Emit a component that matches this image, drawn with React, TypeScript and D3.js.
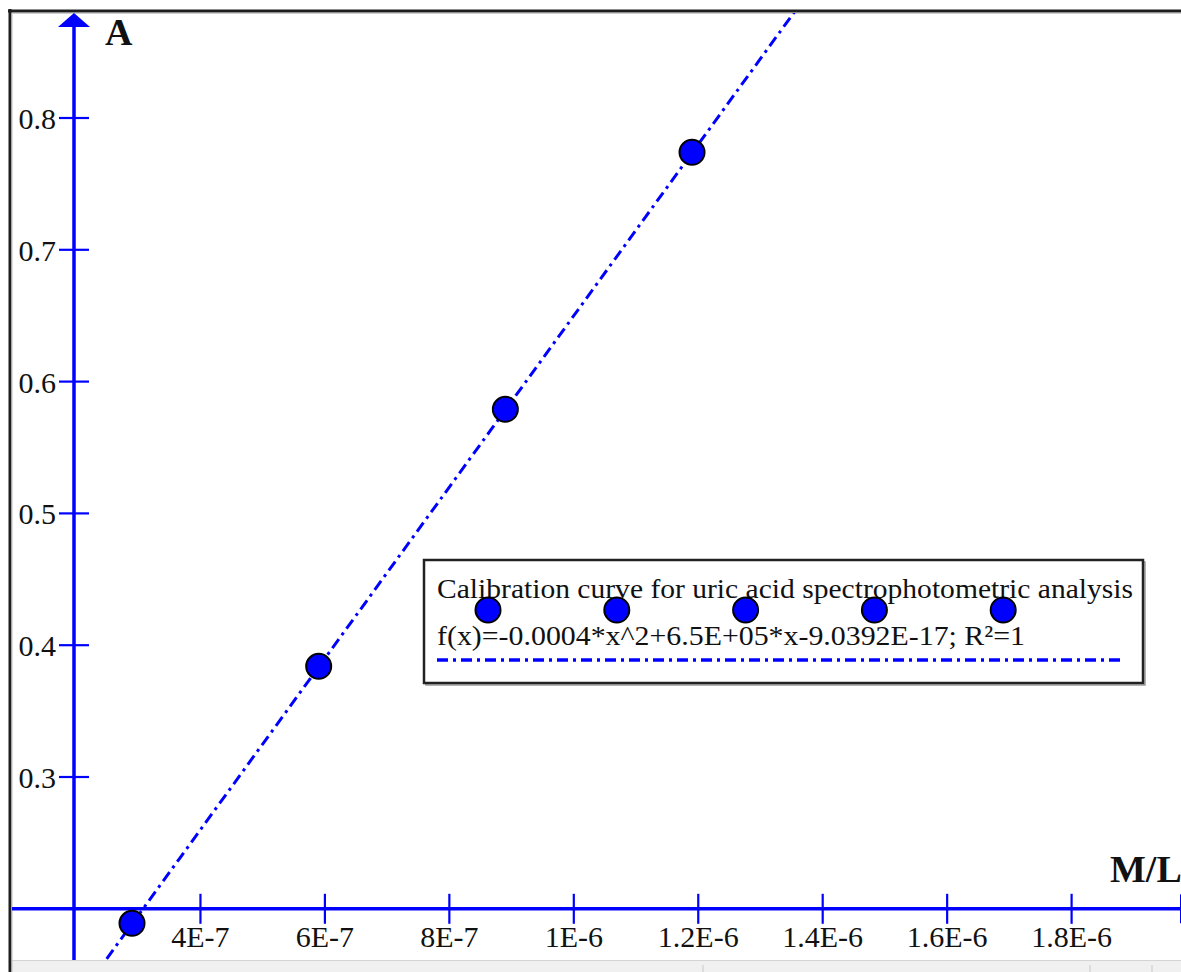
import React from "react";
import * as d3 from "d3";

// ---- data ----
const concentrations = [2.9e-7, 5.9e-7, 8.9e-7, 1.19e-6]; // M/L
const absorbances = [0.189, 0.384, 0.579, 0.774]; // A
const fitCoefficients = [-0.0004, 6.5e5, -9.0392e-17]; // a*x^2 + b*x + c
const xTickValues = [4e-7, 6e-7, 8e-7, 1e-6, 1.2e-6, 1.4e-6, 1.6e-6, 1.8e-6];
const xTickLabels = ["4E-7", "6E-7", "8E-7", "1E-6", "1.2E-6", "1.4E-6", "1.6E-6", "1.8E-6"];
const yTickValues = [0.3, 0.4, 0.5, 0.6, 0.7, 0.8];
const yTickLabels = ["0.3", "0.4", "0.5", "0.6", "0.7", "0.8"];
const legendTitle = "Calibration curve for uric acid spectrophotometric analysis";
const legendFormula = "f(x)=-0.0004*x^2+6.5E+05*x-9.0392E-17; R\u00b2=1";
const xAxisTitle = "M/L";
const yAxisTitle = "A";
const axisOrigin = [2e-7, 0.2];

const W = 1181;
const H = 972;
const BLUE = "#0000ff";
const FONT = "'Liberation Serif', 'Times New Roman', serif";

export default function App() {
  const x = d3.scaleLinear().domain([2e-7, 1.8e-6]).range([76, 1071.6]);
  const y = d3.scaleLinear().domain([0.3, 0.8]).range([777, 118]);
  const x0 = x(axisOrigin[0]);
  const y0 = y(axisOrigin[1]);

  const [a, b, c] = fitCoefficients;
  const fit = (v: number) => a * v * v + b * v + c;
  const samples = d3.range(0, 61).map((i) => 0 + (i / 60) * 2e-6);
  const linePath = d3
    .line<number>()
    .x((v) => x(v))
    .y((v) => y(fit(v)))(samples) as string;

  const clip = { x0: 12, y0: 13, x1: W, y1: 960 };
  const dash = "11,5,3,5";

  // legend layout
  const lg = { x: 424, y: 560, w: 719, h: 123 };
  const markerXs = d3.range(5).map((i) => 488 + i * 128.8);

  return (
    <svg
      width={W}
      height={H}
      style={{ position: "absolute", left: 0, top: 0, background: "#fff" }}
      fontFamily={FONT}
    >
      <defs>
        <clipPath id="plotClip">
          <rect x={clip.x0} y={clip.y0} width={clip.x1 - clip.x0} height={clip.y1 - clip.y0} />
        </clipPath>
      </defs>
      <rect x={0} y={0} width={W} height={H} fill="#fff" />

      {/* bottom grey strip */}
      <rect x={12} y={961} width={W - 12} height={11} fill="#f0f0f0" />
      <line x1={12} x2={W} y1={960.5} y2={960.5} stroke="#d4d4d4" strokeWidth={1} />
      {[703, 1090, 1152].map((px) => (
        <line key={px} x1={px} x2={px} y1={965} y2={972} stroke="#c8c8c8" strokeWidth={1} />
      ))}

      {/* frame */}
      <line x1={10} x2={10} y1={9} y2={H} stroke="#1e1e1e" strokeWidth={3} />
      <line x1={8} x2={W} y1={11} y2={11} stroke="#1e1e1e" strokeWidth={3} />
      <line x1={12} x2={12} y1={13} y2={H} stroke="#bdbdbd" strokeWidth={1} />
      <line x1={12} x2={W} y1={13.5} y2={13.5} stroke="#cfcfcf" strokeWidth={1} />

      <g clipPath="url(#plotClip)">
        {/* x axis */}
        <line x1={clip.x0} x2={W} y1={y0} y2={y0} stroke={BLUE} strokeWidth={3.5} />
        <path
          d={`M${W - 1},${y0 - 15}L${W + 14},${y0}L${W - 1},${y0 + 15}Z`}
          fill={BLUE}
        />
        {/* y axis */}
        <line x1={x0 - 2} x2={x0 - 2} y1={20} y2={clip.y1} stroke={BLUE} strokeWidth={3.5} />
        <path d={`M${x0 - 2},13L${x0 + 14},27L${x0 - 18},27Z`} fill={BLUE} />

        {xTickValues.map((v) => (
          <line key={v} x1={x(v)} x2={x(v)} y1={y0 - 15} y2={y0 + 15} stroke={BLUE} strokeWidth={2.2} />
        ))}
        {yTickValues.map((v) => (
          <line key={v} x1={x0 - 17} x2={x0 + 13} y1={y(v)} y2={y(v)} stroke={BLUE} strokeWidth={2.2} />
        ))}

        {/* fit line */}
        <path d={linePath} fill="none" stroke={BLUE} strokeWidth={3} strokeDasharray={dash} />

        {/* points */}
        {concentrations.map((cv, i) => (
          <circle
            key={i}
            cx={x(cv)}
            cy={y(absorbances[i])}
            r={12.5}
            fill={BLUE}
            stroke="#000"
            strokeWidth={2}
          />
        ))}
      </g>

      {/* tick labels */}
      {xTickValues.map((v, i) => (
        <text key={v} x={x(v)} y={947} fontSize={30} textAnchor="middle" fill="#111">
          {xTickLabels[i]}
        </text>
      ))}
      {yTickValues.map((v, i) => (
        <text key={v} x={56} y={y(v) + 11} fontSize={30} textAnchor="end" fill="#111">
          {yTickLabels[i]}
        </text>
      ))}

      {/* axis titles */}
      <text x={105} y={45} fontSize={38} fontWeight="bold" fill="#111">
        {yAxisTitle}
      </text>
      <text x={1110} y={882} fontSize={38} fontWeight="bold" fill="#111">
        {xAxisTitle}
      </text>

      {/* legend */}
      <rect x={lg.x + 2} y={lg.y + 2} width={lg.w} height={lg.h} fill="none" stroke="#9a9a9a" strokeWidth={1.5} />
      <rect x={lg.x} y={lg.y} width={lg.w} height={lg.h} fill="#fff" stroke="#222" strokeWidth={2.5} />
      <text x={437} y={598} fontSize={28} fill="#111" textLength={696} lengthAdjust="spacingAndGlyphs">
        {legendTitle}
      </text>
      {markerXs.map((mx, i) => (
        <circle key={i} cx={mx} cy={610} r={12.5} fill={BLUE} stroke="#000" strokeWidth={2} />
      ))}
      <text x={437} y={645} fontSize={28} fill="#111" textLength={588} lengthAdjust="spacingAndGlyphs">
        {legendFormula}
      </text>
      <line x1={437} x2={1125} y1={660} y2={660} stroke={BLUE} strokeWidth={3.5} strokeDasharray={dash} />
    </svg>
  );
}
